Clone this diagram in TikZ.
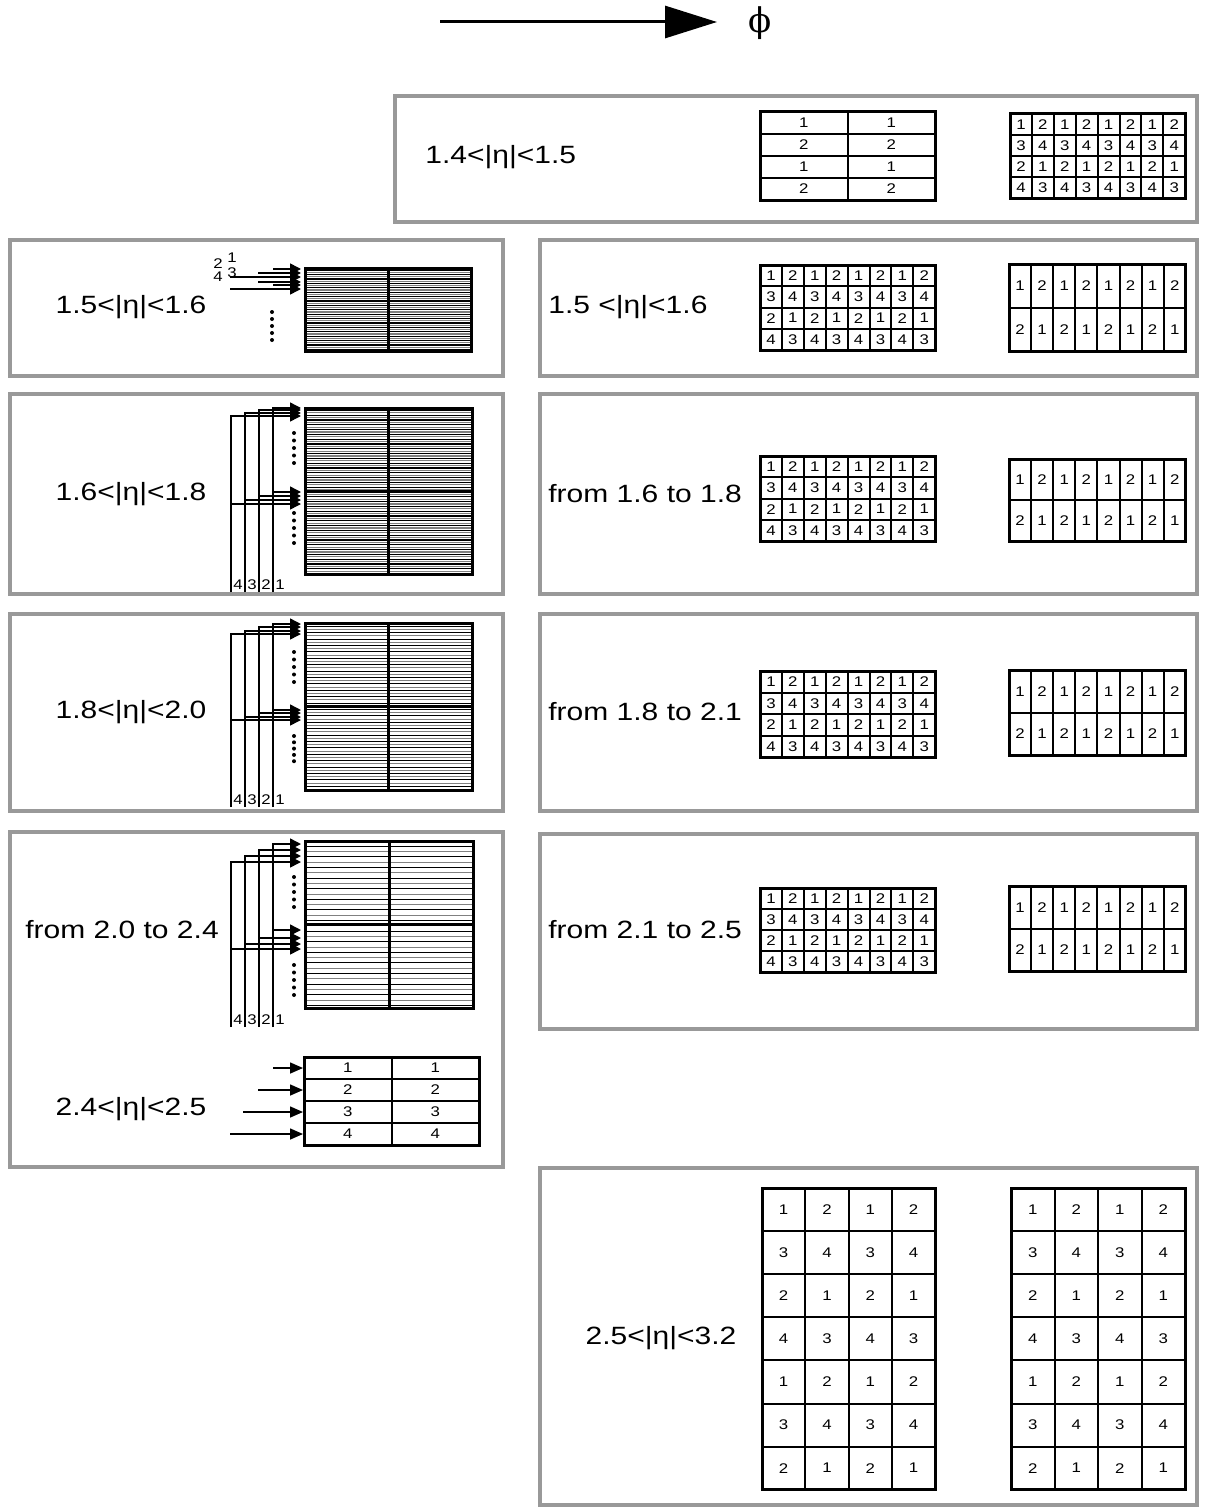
\documentclass[tikz,border=0pt]{standalone}
\usepackage{fontspec}
\setmainfont[FakeStretch=1.2]{Liberation Sans}
\newfontfamily\phifont{DejaVu Serif}
\usetikzlibrary{arrows.meta, positioning}

\definecolor{panelgray}{gray}{0.6}
\definecolor{hatchgray}{gray}{0.5}
\newcommand\rangefont{\fontsize{12.5}{15}\selectfont}
\newcommand\cellfont{\fontsize{7}{8}\selectfont}

% cell contents, one braced list per row
\newcommand\rowsdouble{{1,1},{2,2},{1,1},{2,2}}
\newcommand\rowsfour{{1,1},{2,2},{3,3},{4,4}}
\newcommand\rowsquad{{1,2,1,2,1,2,1,2},{3,4,3,4,3,4,3,4},{2,1,2,1,2,1,2,1},{4,3,4,3,4,3,4,3}}
\newcommand\rowspair{{1,2,1,2,1,2,1,2},{2,1,2,1,2,1,2,1}}
\newcommand\rowstall{{1,2,1,2},{3,4,3,4},{2,1,2,1},{4,3,4,3},{1,2,1,2},{3,4,3,4},{2,1,2,1}}

% name, left, top, cell w, cell h, cols, rows, entries
\newcommand\celltable[8]{%
  \foreach \row [count=\r] in #8 {
    \foreach \v [count=\c] in \row {
      \node[cell, minimum width={#4*0.5pt}, minimum height={#5*0.5pt}]
        (#1-\r-\c) at ({#2+(\c-0.5)*#4},{#3+(\r-0.5)*#5}) {\v};
    }
  }
  \draw[tableframe] (#2,#3) rectangle ({#2+#6*#4},{#3+#7*#5});
}

% name, left, top, width, height, line spacing, number of row blocks, line width
\newcommand\hatchblock[8]{%
  \pgfmathtruncatemacro\nh{#5/#6}
  \foreach \k in {1,...,\nh} {
    \pgfmathsetmacro\yy{#3+\k*#6}
    \ifodd\k\relax \def\hc{black}\else \def\hc{hatchgray}\fi
    \draw[draw=\hc, line width=#8] (#2,\yy) -- ({#2+#4},\yy);
  }
  \coordinate (#1-nw) at (#2,#3);
  \coordinate (#1-se) at ({#2+#4},{#3+#5});
  \draw[blockframe] (#1-nw) rectangle (#1-se);
  \draw[blockframe] ({#2+#4/2},#3) -- ({#2+#4/2},{#3+#5});
  \ifnum#7=2 \draw[blockframe] (#2,{#3+#5/2}) -- ({#2+#4},{#3+#5/2}); \fi
}

% panel, bottom y, list x/upper y/lower y
\newcommand\busfeed[3]{%
  \foreach \bx/\ta/\tb [count=\i] in {#3} {
    \coordinate (#1-bot-\i) at (\bx,#2);
    \coordinate (#1-hi-\i) at (301,\ta);
    \coordinate (#1-lo-\i) at (301,\tb);
    \draw[feed] (#1-bot-\i) |- (#1-hi-\i);
    \draw[feed] (#1-bot-\i |- #1-lo-\i) -- (#1-lo-\i);
    \node[buslabel] (#1-lab-\i) at (#1-bot-\i) {\i};
  }
}

% x, first y, step
\newcommand\dotcol[3]{%
  \foreach \k in {0,...,4} \fill ({#1},{#2+\k*#3}) circle (1pt);
}

\begin{document}
\begin{tikzpicture}[x=0.5pt, y=-0.5pt]
      \tikzstyle{every node}+=[inner sep=0pt]
      \tikzstyle{panel}=[draw=panelgray, line width=2pt]
      \tikzstyle{cell}=[draw, line width=1pt, font=\cellfont]
      \tikzstyle{tableframe}=[line width=1.5pt]
      \tikzstyle{blockframe}=[line width=1.5pt]
      \tikzstyle{feed}=[line width=0.75pt, -{Triangle[length=5.5pt,width=5.5pt]}]
      \tikzstyle{etalabel}=[font=\rangefont]
      \tikzstyle{buslabel}=[font=\cellfont, anchor=south west, inner sep=1pt]
      \useasboundingbox (0,0) rectangle (1209,1509);

      % phi direction
      \coordinate (phistart) at (440,22);
      \coordinate (phitip) at (717,22);
      \node[font=\phifont\fontsize{17}{19}\selectfont] (phi) at (760,23) {ϕ};
      \draw[line width=1.5pt, -{Triangle[length=26pt,width=16pt]}] (phistart) -- (phitip);

      % panels
      \draw[panel] (395,96) rectangle (1197,222);
      \draw[panel] (10,240) rectangle (503,376);
      \draw[panel] (10,394) rectangle (503,594);
      \draw[panel] (10,614) rectangle (503,811);
      \draw[panel] (10,832) rectangle (503,1167);
      \draw[panel] (540,240) rectangle (1197,376);
      \draw[panel] (540,394) rectangle (1197,594);
      \draw[panel] (540,614) rectangle (1197,811);
      \draw[panel] (540,834) rectangle (1197,1029);
      \draw[panel] (540,1168) rectangle (1197,1505);

      % eta ranges
      \node[etalabel, anchor=west] (eta14) at (425,157) {1.4<|η|<1.5};
      \node[etalabel] (eta15) at (131,307) {1.5<|η|<1.6};
      \node[etalabel] (eta16) at (131,494) {1.6<|η|<1.8};
      \node[etalabel] (eta18) at (131,712) {1.8<|η|<2.0};
      \node[etalabel] (eta20) at (122,930) {from 2.0 to 2.4};
      \node[etalabel] (eta24) at (131,1109) {2.4<|η|<2.5};
      \node[etalabel, anchor=west] (eta15r) at (548,307) {1.5 <|η|<1.6};
      \node[etalabel, anchor=west] (eta16r) at (548,494) {from 1.6 to 1.8};
      \node[etalabel, anchor=west] (eta18r) at (548,712) {from 1.8 to 2.1};
      \node[etalabel, anchor=west] (eta21r) at (548,930) {from 2.1 to 2.5};
      \node[etalabel] (eta25) at (661,1338) {2.5<|η|<3.2};

      % cell tables
      \celltable{tA}{760}{112}{87.5}{22}{2}{4}{\rowsdouble}
      \celltable{tB}{1010}{114}{21.9}{21}{8}{4}{\rowsquad}
      \celltable{tC}{760}{265}{21.9}{21.25}{8}{4}{\rowsquad}
      \celltable{tD}{1009}{264}{22.1}{43.5}{8}{2}{\rowspair}
      \celltable{tE}{760}{456}{21.9}{21.25}{8}{4}{\rowsquad}
      \celltable{tF}{1009}{459}{22.1}{41}{8}{2}{\rowspair}
      \celltable{tG}{760}{671}{21.9}{21.5}{8}{4}{\rowsquad}
      \celltable{tH}{1009}{670}{22.1}{42.5}{8}{2}{\rowspair}
      \celltable{tI}{760}{888}{21.9}{21}{8}{4}{\rowsquad}
      \celltable{tJ}{1009}{886}{22.1}{42.5}{8}{2}{\rowspair}
      \celltable{tK}{762}{1188}{43.3}{43.1}{4}{7}{\rowstall}
      \celltable{tL}{1011}{1188}{43.5}{43.1}{4}{7}{\rowstall}
      \celltable{tM}{304}{1057}{87.5}{22}{2}{4}{\rowsfour}

      % strip blocks
      \hatchblock{blkA}{305}{268}{166}{83}{2.2}{1}{0.6pt}
      \hatchblock{blkB}{305}{408}{167}{166}{2.4}{2}{0.6pt}
      \hatchblock{blkC}{305}{623}{167}{167}{3.2}{2}{0.5pt}
      \hatchblock{blkD}{305}{841}{168}{167}{5.3}{2}{0.5pt}

      % readout lines
      \node[font=\cellfont] (fA-1) at (232,258) {1};
      \node[font=\cellfont] (fA-2) at (218,264) {2};
      \node[font=\cellfont] (fA-3) at (232,273) {3};
      \node[font=\cellfont] (fA-4) at (218,277) {4};
      \foreach \sx/\ty [count=\i] in {273/269, 258/273, 230/277, 258/282, 273/285, 230/289} {
        \coordinate (fA-s\i) at (\sx,\ty);
        \coordinate (fA-t\i) at (301,\ty);
        \draw[feed] (fA-s\i) -- (fA-t\i);
      }
      \busfeed{pB}{592}{273/408/492, 259/410/496, 245/413/500, 231/416/504}
      \busfeed{pC}{807}{273/624/710, 259/627/713, 245/631/717, 231/634/720}
      \busfeed{pD}{1027}{273/844/930, 259/850/938, 245/856/944, 231/862/949}
      \foreach \sx [count=\i] in {273,258,243,230} {
        \coordinate (rowfeed-\i) at (\sx,{1046+\i*22});
        \draw[feed, -{Triangle[length=6.5pt,width=5.5pt]}] (rowfeed-\i) -- (tM-\i-1.west);
      }

      % dots
      \dotcol{272}{312}{7}
      \dotcol{294}{433}{7.5}
      \dotcol{294}{513}{7.5}
      \dotcol{294}{652}{7.5}
      \dotcol{294}{736}{6.3}
      \dotcol{294}{877}{7.5}
      \dotcol{294}{965}{7.5}
\end{tikzpicture}
\end{document}
